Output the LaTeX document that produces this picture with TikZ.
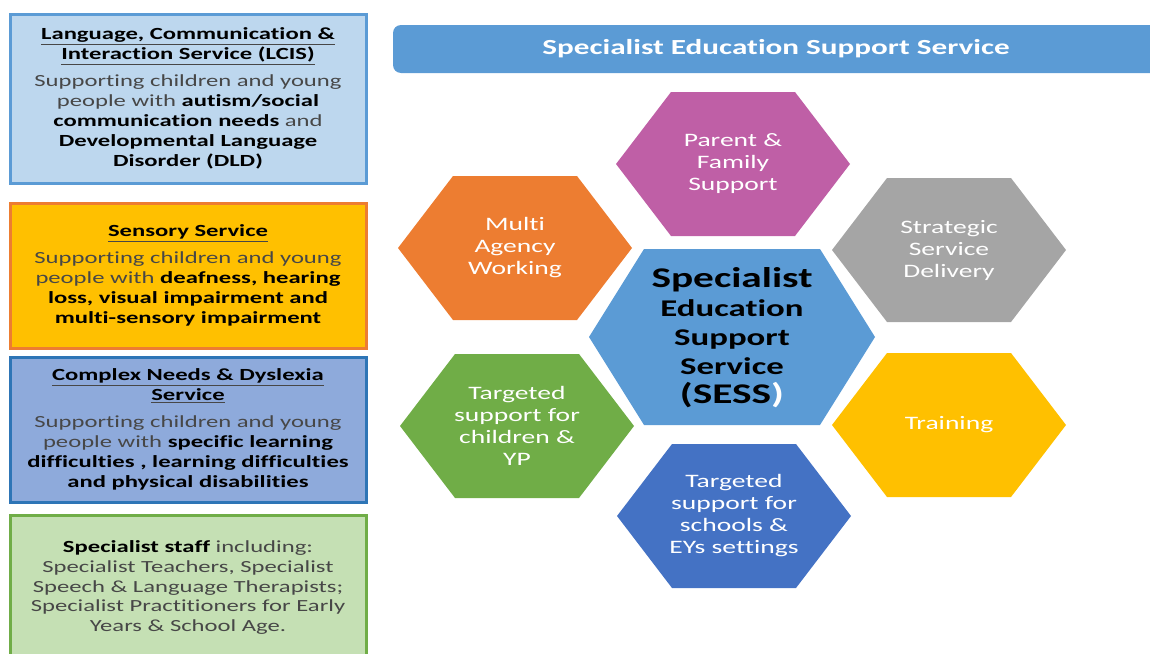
\documentclass[tikz,border=0pt]{standalone}
\usepackage{fontspec}
\setmainfont{Carlito}[FakeStretch=1.45, Ligatures=NoCommon]
\usepackage{xcolor}

\definecolor{lcisfill}{HTML}{BDD7EE}
\definecolor{lcisline}{HTML}{5B9BD5}
\definecolor{sensfill}{HTML}{FFC000}
\definecolor{sensline}{HTML}{ED7D31}
\definecolor{cndfill}{HTML}{8EAADB}
\definecolor{cndline}{HTML}{2E75B6}
\definecolor{stafffill}{HTML}{C5E0B4}
\definecolor{staffline}{HTML}{70AD47}
\definecolor{sessblue}{HTML}{5B9BD5}
\definecolor{parentcol}{HTML}{BF5FA6}
\definecolor{multicol}{HTML}{ED7D31}
\definecolor{stratcol}{HTML}{A5A5A5}
\definecolor{traincol}{HTML}{FFC000}
\definecolor{childcol}{HTML}{70AD47}
\definecolor{schoolcol}{HTML}{4472C4}

\tikzset{
  infobox/.style={rectangle, line width=3pt, minimum width=356pt, align=center, text=black!72, font=\fontsize{17}{19.9}\selectfont},
  hextext/.style={text=white, align=center, font=\fontsize{19}{22}\selectfont},
}
\newcommand{\kw}[1]{\textbf{\textcolor{black}{#1}}}
% x, y, half width, half height, colour
\newcommand{\hexfill}[5]{\fill[#5] (#1-#3,#2) -- (#1-#3+55,#2-#4) -- (#1+#3-55,#2-#4) -- (#1+#3,#2) -- (#1+#3-55,#2+#4) -- (#1-#3+55,#2+#4) -- cycle;}

\begin{document}
\begin{tikzpicture}[x=1pt, y=-1pt]
\useasboundingbox (0,0) rectangle (1150,653);

% left column
\node[infobox, fill=lcisfill, draw=lcisline, minimum height=169pt] (lcis) at (188,98.5) {\underline{\kw{Language, Communication \&}}\\ \underline{\kw{Interaction Service (LCIS)}}\\[7pt] Supporting children and young\\ people with \kw{autism/social}\\ \kw{communication needs} and\\ \kw{Developmental Language}\\ \kw{Disorder (DLD)}};
\node[infobox, fill=sensfill, draw=sensline, minimum height=145pt] (sensory) at (188,275.5) {\underline{\kw{Sensory Service}}\\[7pt] Supporting children and young\\ people with \kw{deafness, hearing}\\ \kw{loss, visual impairment and}\\ \kw{multi-sensory impairment}};
\node[infobox, fill=cndfill, draw=cndline, minimum height=145pt] (complex) at (188,429.5) {\underline{\kw{Complex Needs \& Dyslexia}}\\ \underline{\kw{Service}}\\[7pt] Supporting children and young\\ people with \kw{specific learning}\\ \kw{difficulties , learning difficulties}\\ \kw{and physical disabilities}};
\node[infobox, fill=stafffill, draw=staffline, minimum height=145pt] (staff) at (188,587.5) {\kw{Specialist staff} including:\\ Specialist Teachers, Specialist\\ Speech \& Language Therapists;\\ Specialist Practitioners for Early\\ Years \& School Age.};

% title bar
\node[rectangle, rounded corners=8pt, fill=sessblue, minimum width=766pt, minimum height=48pt, text=white, font=\fontsize{21.5}{24}\selectfont\bfseries] (title) at (776,49) {Specialist Education Support Service};

% hexagons
\hexfill{733}{164}{117}{72}{parentcol}
\hexfill{515}{248}{117}{72}{multicol}
\hexfill{949}{250}{117}{72}{stratcol}
\hexfill{732}{337}{143}{88}{sessblue}
\hexfill{517}{426}{117}{72}{childcol}
\hexfill{949}{425}{117}{72}{traincol}
\hexfill{734}{516}{117}{72}{schoolcol}

\node[hextext] (parent) at (733,164) {Parent \&\\ Family\\ Support};
\node[hextext] (multi) at (515,248) {Multi\\ Agency\\ Working};
\node[hextext] (strategic) at (949,250) {Strategic\\ Service\\ Delivery};
\node[hextext] (children) at (517,426) {Targeted\\ support for\\ children \&\\ YP};
\node[hextext] (training) at (949,425) {Training};
\node[hextext] (schools) at (734,516) {Targeted\\ support for\\ schools \&\\ EYs settings};

\node[align=center, text=black, font=\fontsize{24}{29}\selectfont\bfseries] (sess) at (732,338) {{\fontsize{28.5}{30}\selectfont Specialist}\\ Education\\ Support\\ Service\\ {\fontsize{28.5}{30}\selectfont (SESS\textcolor{white}{)}}};
\end{tikzpicture}
\end{document}
